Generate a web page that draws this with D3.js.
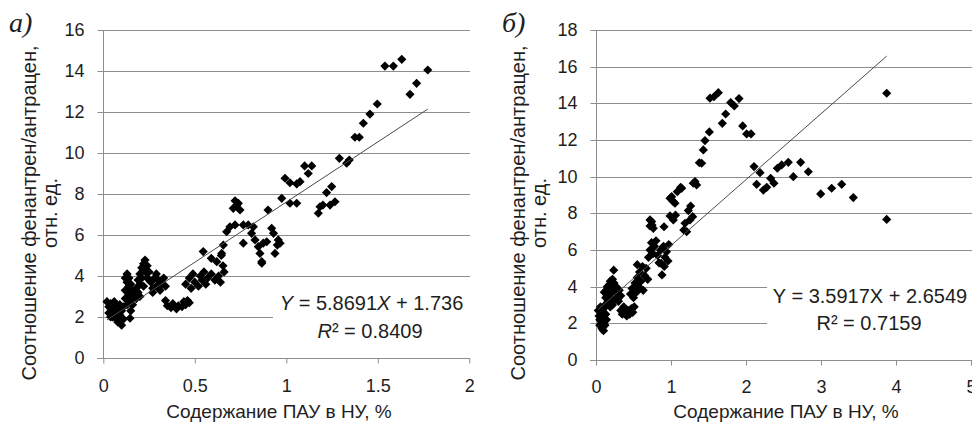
<!DOCTYPE html>
<html>
<head>
<meta charset="utf-8">
<script src="https://cdn.jsdelivr.net/npm/d3@7"></script>
<style>
  html, body { margin: 0; padding: 0; background: #fff; }
  svg { display: block; }
  .sans { font-family: "Liberation Sans", Arial, sans-serif; fill: #1e1e1e; }
</style>
</head>
<body>
<svg id="chart" width="972" height="425"></svg>
<script>
// ---------------- DATA ----------------
const panelLabels = ["а)", "б)"];
const xTitle = "Содержание ПАУ в НУ, %";
const yTitleLines = ["Соотношение фенантрен/антрацен,", "отн. ед."];

const leftXTicks = [0, 0.5, 1, 1.5, 2];
const leftXTickLabels = ["0", "0.5", "1", "1.5", "2"];
const leftYTicks = [0, 2, 4, 6, 8, 10, 12, 14, 16];
const rightXTicks = [0, 1, 2, 3, 4, 5];
const rightXTickLabels = ["0", "1", "2", "3", "4", "5"];
const rightYTicks = [0, 2, 4, 6, 8, 10, 12, 14, 16, 18];

// trend lines: [slope, intercept]
const leftTrend = [5.8691, 1.736];
const rightTrend = [3.5917, 2.6549];
const leftR2 = "0.8409";
const rightR2 = "0.7159";

// scatter points [x, y]
const leftPoints = [
  [0.02,2.75],[0.03,2.5],[0.04,2.65],[0.03,2.2],[0.05,2.35],[0.05,2.0],[0.06,2.55],[0.07,2.2],[0.07,1.9],
  [0.08,2.45],[0.08,1.75],[0.09,2.1],[0.10,1.6],[0.10,2.3],[0.11,1.9],[0.06,2.75],[0.04,2.0],[0.09,2.6],
  [0.11,2.5],[0.12,2.9],[0.12,3.3],[0.13,3.7],[0.13,4.1],[0.14,3.9],[0.14,3.5],[0.13,2.6],[0.14,3.1],
  [0.15,2.3],[0.15,2.8],[0.146,1.94],[0.16,3.3],[0.16,2.6],[0.12,3.9],[0.15,3.6],
  [0.17,3.0],[0.18,3.4],[0.18,2.9],[0.19,3.8],[0.19,3.2],[0.20,4.1],[0.20,3.6],[0.21,4.4],[0.21,3.9],
  [0.22,4.6],[0.228,4.78],[0.23,4.2],[0.24,4.5],[0.24,3.9],[0.25,4.2],[0.22,3.5],[0.20,3.0],
  [0.26,3.7],[0.27,3.4],[0.28,3.9],[0.29,4.1],[0.29,3.5],[0.30,3.8],[0.31,3.3],[0.32,3.6],[0.33,3.9],
  [0.34,3.5],[0.27,3.2],
  [0.34,2.8],[0.35,2.55],[0.37,2.45],[0.38,2.65],[0.40,2.4],[0.41,2.55],[0.43,2.5],[0.44,2.75],[0.45,2.6],
  [0.46,2.8],[0.47,2.7],
  [0.45,3.6],[0.47,3.9],[0.48,3.4],[0.49,4.1],[0.50,3.7],[0.52,3.5],[0.53,4.0],[0.54,3.8],[0.55,4.2],
  [0.56,3.6],[0.57,3.9],[0.59,4.1],[0.61,3.8],[0.63,4.0],[0.64,3.7],[0.66,4.2],
  [0.546,5.19],[0.59,4.86],[0.62,4.7],[0.647,5.1],[0.656,5.51],[0.645,5.0],[0.654,4.5],
  [0.674,6.16],[0.692,6.4],[0.72,6.49],[0.765,6.49],[0.792,6.49],[0.82,6.4],
  [0.71,7.3],[0.73,7.46],[0.747,7.22],[0.72,7.67],[0.738,7.55],
  [0.765,5.6],[0.81,6.08],[0.829,5.76],[0.847,5.43],[0.856,5.1],[0.866,4.7],[0.866,4.62],
  [0.874,5.6],[0.893,5.67],[0.92,6.33],[0.93,6.08],[0.938,5.1],[0.956,5.76],[0.966,5.6],[0.951,5.51],
  [0.90,7.22],[0.975,7.79],[1.02,7.55],[1.057,7.55],
  [1.184,7.38],[1.20,7.46],[1.175,7.06],[1.239,7.46],[1.266,7.62],[1.22,8.07],[1.248,8.36],
  [0.993,8.77],[1.02,8.55],[1.057,8.49],[1.075,8.6],[1.12,9.0],[1.139,9.37],[1.10,9.37],
  [1.29,9.74],[1.33,9.5],[1.344,9.66],
  [1.375,10.77],[1.399,10.77],[1.421,11.45],[1.457,11.9],[1.497,12.39],
  [1.539,14.24],[1.585,14.24],[1.631,14.57],[1.676,12.86],[1.712,13.4],[1.773,14.05]
];

const rightPoints = [
  [0.03,2.7],[0.04,2.4],[0.05,2.2],[0.06,2.6],[0.07,2.0],[0.08,2.35],[0.09,1.8],[0.10,1.6],[0.11,2.1],
  [0.12,1.9],[0.13,2.5],[0.06,2.9],[0.14,2.2],[0.05,1.9],[0.10,2.8],[0.08,1.7],
  [0.12,3.0],[0.13,3.4],[0.14,3.8],[0.15,4.0],[0.16,3.2],[0.17,3.6],[0.18,4.1],[0.19,2.9],[0.20,3.4],
  [0.21,3.9],[0.22,4.4],[0.236,4.9],[0.24,4.2],[0.25,3.7],[0.26,3.3],[0.27,4.0],[0.28,3.6],[0.30,3.2],
  [0.31,3.8],[0.33,3.5],[0.19,4.3],[0.15,3.5],[0.11,3.7],[0.22,3.0],
  [0.33,2.7],[0.35,2.5],[0.37,2.9],[0.39,2.6],[0.41,2.4],[0.43,2.7],[0.45,2.5],[0.47,2.8],[0.49,2.6],[0.51,2.9],
  [0.46,3.6],[0.48,3.9],[0.50,3.4],[0.52,4.2],[0.54,3.7],[0.55,4.5],[0.57,4.0],[0.58,4.8],[0.60,4.3],
  [0.62,5.1],[0.63,3.8],[0.65,4.6],[0.67,5.0],[0.55,5.2],[0.69,4.4],
  [0.70,5.6],[0.72,6.0],[0.74,6.4],[0.76,5.8],[0.78,6.2],[0.80,6.5],[0.82,5.7],[0.84,5.3],[0.86,6.0],
  [0.87,5.27],[0.88,4.64],[0.90,6.2],[0.92,5.6],[0.94,5.9],[0.96,5.4],[0.97,6.3],[0.91,5.1],
  [0.72,7.64],[0.747,7.36],[0.742,7.55],[0.72,7.31],[0.764,7.18],[0.907,7.27],[0.987,7.86],[1.031,7.64],
  [1.06,7.9],[1.17,7.09],[1.187,7.46],[1.209,7.0],[1.253,7.64],[1.289,7.82],[1.231,8.15],[1.262,8.4],
  [0.987,8.82],[1.031,8.64],[1.053,8.55],[1.084,9.18],[1.129,9.42],[1.143,9.37],[1.009,8.91],
  [1.297,9.64],[1.32,9.73],[1.342,9.55],
  [1.378,10.76],[1.409,10.73],[1.431,11.46],[1.453,11.97],[1.511,12.44],
  [1.52,14.28],[1.573,14.36],[1.631,14.58],[1.684,12.91],[1.729,13.42],[1.796,14.04],[1.844,13.86],
  [1.907,14.26],[1.956,12.77],[2.009,12.33],[2.067,12.33],
  [2.107,10.55],[2.187,10.22],[2.142,9.58],[2.231,9.27],[2.276,9.42],[2.329,9.91],[2.373,9.64],
  [2.418,10.46],[2.476,10.64],[2.564,10.78],[2.631,10.0],[2.729,10.78],[2.831,10.27],
  [2.996,9.06],[3.142,9.37],[3.276,9.58],[3.431,8.86],[3.876,14.55],[3.876,7.67]
];

// ---------------- DRAW ----------------
const svg = d3.select("#chart");
svg.append("rect").attr("width", 972).attr("height", 425).attr("fill", "#fff");

const GRID = "#8e8e8e";
const SANS = '"Liberation Sans", Arial, sans-serif';
const SERIF = '"Liberation Serif", "Times New Roman", serif';
const diamond = d3.symbol().type(d3.symbolSquare).size(42);

function panel(cfg) {
  const g = svg.append("g");
  const x = d3.scaleLinear().domain(cfg.xDomain).range(cfg.xRange);
  const y = d3.scaleLinear().domain(cfg.yDomain).range(cfg.yRange);

  // gridlines (excluding 0)
  g.append("g").selectAll("line").data(cfg.yTicks.filter(d => d !== 0)).join("line")
    .attr("x1", cfg.xRange[0]).attr("x2", cfg.gridEnd)
    .attr("y1", d => Math.round(y(d)) + 0.5).attr("y2", d => Math.round(y(d)) + 0.5)
    .attr("stroke", GRID).attr("stroke-width", 1);

  // y axis
  const ya = g.append("g").attr("transform", `translate(${Math.round(cfg.xRange[0]) + 0.5},0)`)
    .call(d3.axisLeft(y).tickValues(cfg.yTicks).tickFormat(d3.format("d")).tickSize(6).tickPadding(13));
  ya.select(".domain").attr("stroke", GRID).attr("d", `M0,${cfg.yRange[1]}V${cfg.yRange[0]}`);
  ya.selectAll(".tick line").attr("stroke", GRID);
  ya.selectAll(".tick").attr("transform", d => `translate(0,${Math.round(y(d)) + 0.5})`);
  ya.selectAll("text").style("font-size", "18px").style("font-family", SANS).style("fill", "#1e1e1e");

  // x axis
  const xa = g.append("g").attr("transform", `translate(0,${Math.round(cfg.yRange[0]) + 0.5})`)
    .call(d3.axisBottom(x).tickValues(cfg.xTicks).tickFormat((d, i) => cfg.xTickLabels[i]).tickSize(5).tickPadding(cfg.xPad));
  xa.select(".domain").attr("stroke", GRID).attr("d", `M${cfg.xRange[0] - 6},0H${cfg.gridEnd}`);
  xa.selectAll(".tick line").attr("stroke", GRID);
  xa.selectAll("text").style("font-size", "18px").style("font-family", SANS).style("fill", "#1e1e1e");

  // points
  g.append("g").selectAll("path").data(cfg.points).join("path")
    .attr("d", diamond)
    .attr("transform", d => `translate(${x(d[0])},${y(d[1])}) rotate(45)`)
    .attr("fill", "#000");

  // trend line
  const ext = d3.extent(cfg.points, d => d[0]);
  g.append("line")
    .attr("x1", x(ext[0])).attr("y1", y(cfg.trend[0] * ext[0] + cfg.trend[1]))
    .attr("x2", x(ext[1])).attr("y2", y(cfg.trend[0] * ext[1] + cfg.trend[1]))
    .attr("stroke", "#4a4a4a").attr("stroke-width", 1);

  // equation label box
  g.append("rect").attr("x", cfg.box[0]).attr("y", cfg.box[1]).attr("width", cfg.box[2]).attr("height", cfg.box[3]).attr("fill", "#fff");
  const eq = g.append("text").attr("class", "sans").attr("x", cfg.eqX).attr("y", cfg.eqY)
    .attr("text-anchor", "middle").style("font-size", "20px");
  eq.append("tspan").style("font-style", cfg.italic ? "italic" : "normal").text("Y");
  eq.append("tspan").text(` = ${cfg.trend[0]}`);
  eq.append("tspan").style("font-style", cfg.italic ? "italic" : "normal").text("X");
  eq.append("tspan").text(` + ${cfg.trend[1]}`);
  const r2 = g.append("text").attr("class", "sans").attr("x", cfg.r2X).attr("y", cfg.r2Y)
    .attr("text-anchor", "middle").style("font-size", "20px");
  r2.append("tspan").style("font-style", cfg.italic ? "italic" : "normal").text("R");
  r2.append("tspan").text(`² = ${cfg.r2}`);

  // axis titles
  g.append("text").attr("class", "sans").attr("x", cfg.xTitleX).attr("y", 418)
    .attr("text-anchor", "middle").style("font-size", "19px").text(xTitle);
  yTitleLines.forEach((t, i) => {
    g.append("text").attr("class", "sans")
      .attr("transform", `translate(${cfg.yTitleX[i]},${cfg.yTitleY}) rotate(-90)`)
      .attr("text-anchor", "middle").style("font-size", "20px").text(t);
  });

  // panel label
  g.append("text").attr("x", cfg.labelX).attr("y", 32)
    .style("font-family", SERIF).style("font-style", "italic").style("fill", "#1e1e1e")
    .style("font-size", "28px").text(cfg.label);
}

panel({
  xDomain: [0, 2], xRange: [103.3, 469.3], yDomain: [0, 16], yRange: [358, 30], gridEnd: 470,
  yTicks: leftYTicks, xTicks: leftXTicks, xTickLabels: leftXTickLabels, xPad: 16,
  points: leftPoints, trend: leftTrend, r2: leftR2, italic: true,
  box: [273, 290, 199, 55], eqX: 371.5, eqY: 310, r2X: 370, r2Y: 338,
  xTitleX: 279, yTitleX: [36, 57], yTitleY: 213, label: panelLabels[0], labelX: 9
});

panel({
  xDomain: [0, 5], xRange: [596, 971], yDomain: [0, 18], yRange: [360, 30], gridEnd: 972,
  yTicks: rightYTicks, xTicks: rightXTicks, xTickLabels: rightXTickLabels, xPad: 15,
  points: rightPoints, trend: rightTrend, r2: rightR2, italic: false,
  box: [767, 281, 205, 57], eqX: 870, eqY: 303, r2X: 869, r2Y: 330,
  xTitleX: 786, yTitleX: [525, 546], yTitleY: 213, label: panelLabels[1], labelX: 502
});
</script>
</body>
</html>
